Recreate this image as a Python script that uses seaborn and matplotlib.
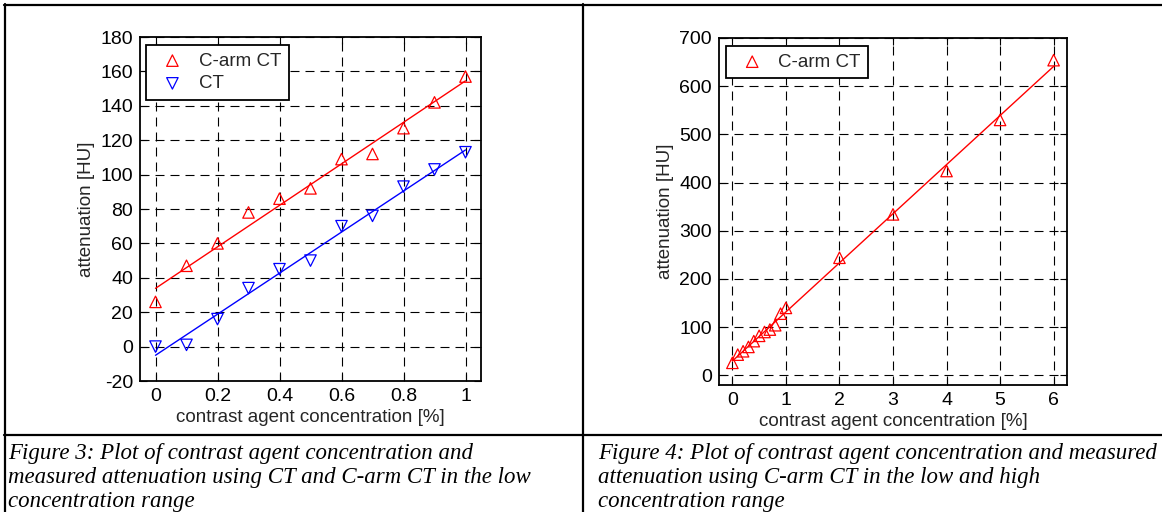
import matplotlib
matplotlib.use("Agg")
import matplotlib.pyplot as plt
import seaborn as sns
import pandas as pd
from matplotlib.lines import Line2D

# ---------------- data ----------------
conc_low = [0.0, 0.1, 0.2, 0.3, 0.4, 0.5, 0.6, 0.7, 0.8, 0.9, 1.0]
carm_low = [26, 47, 60, 78, 86, 92, 109, 112, 127, 142, 157]
ct_low = [0, 1, 16, 34, 45, 50, 70, 76, 93, 103, 113]

conc_all = [0.0, 0.1, 0.2, 0.3, 0.4, 0.5, 0.6, 0.7, 0.8, 0.9, 1.0, 2, 3, 4, 5, 6]
carm_all = [26, 43, 50, 59, 71, 82, 90, 95, 104, 128, 140, 244, 334, 424, 530, 654]

xticks_low = [0, 0.2, 0.4, 0.6, 0.8, 1.0]
xticklabels_low = ["0", "0.2", "0.4", "0.6", "0.8", "1"]
yticks_low = list(range(-20, 181, 20))
xticks_all = [0, 1, 2, 3, 4, 5, 6]
yticks_all = list(range(0, 701, 100))

caption3 = ["Figure 3: Plot of contrast agent concentration and",
            "measured attenuation using CT and C-arm CT in the low",
            "concentration range"]
caption4 = ["Figure 4: Plot of contrast agent concentration and measured",
            "attenuation using C-arm CT in the low and high",
            "concentration range"]

xlabel = "contrast agent concentration [%]"
ylabel = "attenuation [HU]"

# ---------------- style ----------------
sns.set_style("ticks")
plt.rcParams['font.family'] = ['Liberation Sans', 'DejaVu Sans']
plt.rcParams['axes.unicode_minus'] = False

W, H = 1162, 512
fig = plt.figure(figsize=(W / 100, H / 100), dpi=100)
fig.patch.set_facecolor("white")


def box(l, t, r, b):
    return [l / W, 1 - b / H, (r - l) / W, (b - t) / H]


ax1 = fig.add_axes(box(140, 37, 481, 381))
ax2 = fig.add_axes(box(719, 38, 1067, 385))

FS = 13.5
TFS = 14
grid_ls = (0, (8.1, 5.4))
mk = dict(s=68, linewidths=0.9, facecolors="none", alpha=1, zorder=3)

df_low = pd.DataFrame({"conc": conc_low, "carm": carm_low, "ct": ct_low})
df_all = pd.DataFrame({"conc": conc_all, "carm": carm_all})

sns.regplot(data=df_low, x="conc", y="carm", ax=ax1, ci=None, color="#ff0000",
            marker="^", scatter_kws=dict(edgecolors="#ff0000", **mk),
            line_kws=dict(lw=1.0, zorder=2), label="C-arm CT")
sns.regplot(data=df_low, x="conc", y="ct", ax=ax1, ci=None, color="#0000ff",
            marker="v", scatter_kws=dict(edgecolors="#0000ff", **mk),
            line_kws=dict(lw=1.0, zorder=2), label="CT")
sns.regplot(data=df_all, x="conc", y="carm", ax=ax2, ci=None, color="#ff0000",
            marker="^", scatter_kws=dict(edgecolors="#ff0000", **mk),
            line_kws=dict(lw=1.0, zorder=2), label="C-arm CT")

ax1.set_xlim(-0.05, 1.05)
ax1.set_ylim(-20, 180)
ax1.set_xticks(xticks_low)
ax1.set_xticklabels(xticklabels_low)
ax1.set_yticks(yticks_low)

ax2.set_xlim(-0.25, 6.25)
ax2.set_ylim(-20, 700)
ax2.set_xticks(xticks_all)
ax2.set_yticks(yticks_all)

for ax in (ax1, ax2):
    ax.set_xlabel(xlabel, fontsize=FS, labelpad=3)
    ax.set_ylabel(ylabel, fontsize=FS, labelpad=4)
    ax.grid(True, color="black", linestyle=grid_ls, lw=0.8)
    ax.set_axisbelow(True)
    ax.tick_params(direction="in", length=5, width=0.8, labelsize=TFS,
                   top=True, right=True, pad=5, colors="black")
    for s in ax.spines.values():
        s.set_visible(True)
        s.set_linewidth(1.3)
        s.set_color("black")
    ax.set_facecolor("white")

leg_kw = dict(loc="upper left", fontsize=FS, frameon=True, fancybox=False,
              framealpha=1, edgecolor="black", borderaxespad=0,
              handletextpad=0.4, borderpad=0.4, labelspacing=0.3)
lg1 = ax1.legend(bbox_to_anchor=(0.018, 0.977), **leg_kw)
lg2 = ax2.legend(bbox_to_anchor=(0.020, 0.977), **leg_kw)
for lg in (lg1, lg2):
    lg.get_frame().set_linewidth(1.3)

# ---------------- table lines ----------------
def hline(y, x0, x1, lw=1.6):
    fig.add_artist(Line2D([x0 / W, x1 / W], [1 - y / H, 1 - y / H],
                          transform=fig.transFigure, color="black", lw=lw))


def vline(x, y0, y1, lw=1.6):
    fig.add_artist(Line2D([x / W, x / W], [1 - y0 / H, 1 - y1 / H],
                          transform=fig.transFigure, color="black", lw=lw))


hline(5, 4, W)
hline(435, 4, W)
vline(5, 4, H)
vline(583, 4, H)

# ---------------- captions ----------------
cap_kw = dict(family=["Liberation Serif", "DejaVu Serif"], style="italic",
              fontsize=16.5, va="baseline", ha="left", color="black")
for i, line in enumerate(caption3):
    fig.text(8 / W, 1 - (459 + 24 * i) / H, line, **cap_kw)
for i, line in enumerate(caption4):
    fig.text(598 / W, 1 - (459 + 24 * i) / H, line, **cap_kw)

fig.savefig("out.png", dpi=100, facecolor="white")
